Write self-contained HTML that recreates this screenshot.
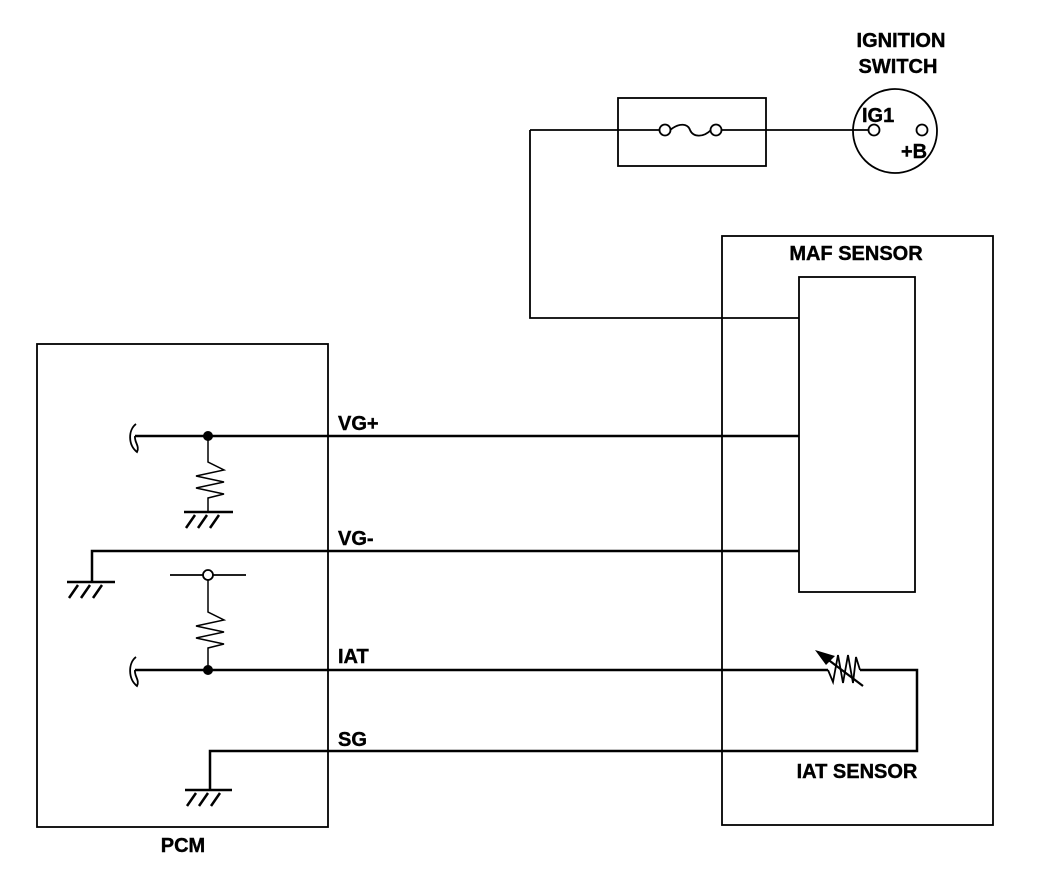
<!DOCTYPE html>
<html><head><style>body{margin:0;background:#fff}svg{display:block}text{font-family:"Liberation Sans",sans-serif;font-weight:bold;font-size:20px;fill:#000;stroke:#000;stroke-width:0.4}</style></head><body>
<svg width="1056" height="880" viewBox="0 0 1056 880" xmlns="http://www.w3.org/2000/svg">
<g fill="none" stroke="#000" stroke-width="1.8">
<rect x="37" y="344" width="291" height="483"/>
<rect x="722" y="236" width="271" height="589"/>
<rect x="799" y="277" width="116" height="315"/>
<rect x="618" y="98" width="148" height="68"/>
<circle cx="895" cy="131" r="42"/>
<circle cx="874" cy="130" r="5.5"/>
<circle cx="922" cy="130" r="5.5"/>
<circle cx="665" cy="130" r="5.5"/>
<circle cx="716" cy="130" r="5.5"/>
<path d="M670 130 C680 122 688 124 690 130 C693 137 703 138 711 130"/>
<path d="M530 130H660 M721 130H868 M530 130V318H799"/>
<path d="M208 436V462 L224 470 L196 476 L224 482 L196 488 L224 494 L208 498 V512" stroke-width="1.5"/>
<path d="M208 580V612 L224 620 L196 626 L224 632 L196 638 L224 644 L208 648 V670" stroke-width="1.5"/>
<circle cx="208" cy="575" r="5" fill="#fff"/>
<path d="M170 575H203 M213 575H246"/>
<path d="M136 424 C128 430 128 445 137 452 C140 446 134 442 135 436" />
<path d="M136 657 C128 663 128 679 137 686 C140 680 134 676 135 670"/>
</g>
<g fill="none" stroke="#000" stroke-width="2.5">
<path d="M135 436H799 M92 582V551H799 M135 670H828 M860 670H917V751H210V790"/>
<path d="M184 512H233 M67 582H115 M185 790H232"/>
<path d="M195 515L186 528 M207 515L198 528 M219 515L210 528"/>
<path d="M78 585L69 598 M90 585L81 598 M102 585L93 598"/>
<path d="M196 793L187 806 M208 793L199 806 M220 793L211 806"/>
<path d="M828 670L833 682L838 655L843 683L848 655L853 683L856 657L860 670" stroke-width="1.8"/>
<path d="M818 652L863 686" stroke-width="2.2"/>
</g>
<polygon points="815,650 835,656 826,665" fill="#000"/>
<circle cx="208" cy="436" r="5" fill="#000"/>
<circle cx="208" cy="670" r="5" fill="#000"/>
<text x="338" y="430">VG+</text>
<text x="338" y="545">VG-</text>
<text x="338" y="663">IAT</text>
<text x="338" y="746">SG</text>
<text x="183" y="852" text-anchor="middle">PCM</text>
<text x="856" y="260" text-anchor="middle">MAF SENSOR</text>
<text x="857" y="778" text-anchor="middle">IAT SENSOR</text>
<text x="901" y="47" text-anchor="middle">IGNITION</text>
<text x="898" y="73" text-anchor="middle">SWITCH</text>
<text x="862" y="122">IG1</text>
<text x="901" y="158">+B</text>
</svg>
</body></html>
